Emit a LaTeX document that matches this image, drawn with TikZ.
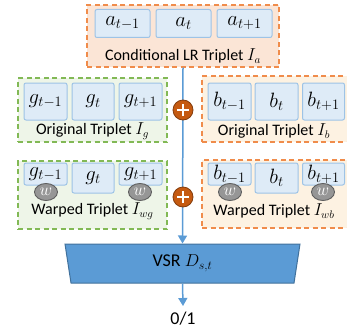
\documentclass[tikz,border=0pt]{standalone}
\usepackage{fontspec}
\setmainfont{Carlito}
\usepackage{tikz}
\usetikzlibrary{shapes.geometric,arrows.meta}

\definecolor{cellfill}{RGB}{222,235,247}
\definecolor{cellline}{RGB}{157,195,230}
\definecolor{orangeline}{RGB}{240,140,75}
\definecolor{peachfill}{RGB}{251,229,214}
\definecolor{creamfill}{RGB}{253,242,226}
\definecolor{greenline}{RGB}{130,185,85}
\definecolor{greenfill}{RGB}{238,245,232}
\definecolor{plusfill}{RGB}{197,90,17}
\definecolor{plusline}{RGB}{132,60,12}
\definecolor{flowblue}{RGB}{91,155,213}
\definecolor{vsrline}{RGB}{65,113,156}
\definecolor{warpfill}{RGB}{150,150,150}
\definecolor{warpline}{RGB}{95,95,95}

\begin{document}
\begin{tikzpicture}[x=1pt, y=-1pt,
  frame/.style={rectangle, dash pattern=on 5pt off 3.5pt, line width=1.2pt, inner sep=0pt},
  cell/.style={rectangle, draw=cellline, fill=cellfill, rounded corners=2pt, line width=1pt,
    inner sep=0pt, font=\fontsize{20}{24}\selectfont},
  caption/.style={font=\fontsize{16}{18}\selectfont, inner sep=0pt},
  warp/.style={ellipse, draw=warpline, fill=warpfill, line width=0.9pt, inner sep=0pt,
    minimum width=23pt, minimum height=17pt, text=white, font=\fontsize{16}{16}\selectfont},
  plus/.style={circle, draw=plusline, fill=plusfill, line width=0.8pt, minimum size=20pt, inner sep=0pt,
    path picture={\draw[white, line width=1.6pt]
      ([xshift=-6pt]path picture bounding box.center) -- ([xshift=6pt]path picture bounding box.center)
      ([yshift=-6pt]path picture bounding box.center) -- ([yshift=6pt]path picture bounding box.center);}},
  flow/.style={draw=flowblue, line width=1.5pt, -{Triangle[length=8pt, width=9pt]}}]

\path[use as bounding box, clip] (0,0) rectangle (347,329);

% conditional LR triplet
\node[frame, draw=orangeline, fill=peachfill, minimum width=192pt, minimum height=62pt] (ia) at (183,36) {};
\node[cell, minimum width=55pt, minimum height=28pt] (a1) at (122.5,23.5) {$a_{t-1}$};
\node[cell, minimum width=55pt, minimum height=28pt] (a2) at (183.5,23.5) {$a_t$};
\node[cell, minimum width=55pt, minimum height=28pt] (a3) at (244.5,23.5) {$a_{t+1}$};
\node[caption] (ialab) at (183,56) {Conditional LR Triplet $I_a$};

% original triplets
\node[frame, draw=greenline, fill=greenfill, minimum width=149pt, minimum height=64pt] (ig) at (92.5,110) {};
\node[cell, minimum width=43pt, minimum height=37pt] (g1) at (45.5,101.5) {$g_{t-1}$};
\node[cell, minimum width=42pt, minimum height=37pt] (g2) at (93,101.5) {$g_t$};
\node[cell, minimum width=43pt, minimum height=37pt] (g3) at (140.5,101.5) {$g_{t+1}$};
\node[caption] (iglab) at (92.5,131) {Original Triplet $I_g$};

\node[frame, draw=orangeline, fill=creamfill, minimum width=148pt, minimum height=66pt] (ib) at (276,109) {};
\node[cell, minimum width=43pt, minimum height=37pt] (b1) at (229.5,101.5) {$b_{t-1}$};
\node[cell, minimum width=43pt, minimum height=37pt] (b2) at (276.5,101.5) {$b_t$};
\node[cell, minimum width=42pt, minimum height=37pt] (b3) at (323.5,101.5) {$b_{t+1}$};
\node[caption] (iblab) at (274,131) {Original Triplet $I_b$};

% warped triplets
\node[frame, draw=greenline, fill=greenfill, minimum width=149pt, minimum height=68pt] (iwg) at (92.5,195) {};
\node[cell, minimum width=43pt, minimum height=22pt] (wg1) at (45.5,174) {\raisebox{4pt}{$g_{t-1}$}};
\node[cell, minimum width=42pt, minimum height=30pt] (wg2) at (93,178) {$g_t$};
\node[cell, minimum width=43pt, minimum height=22pt] (wg3) at (140.5,174) {\raisebox{4pt}{$g_{t+1}$}};
\node[warp] (w1) at (46,192) {$w$};
\node[warp] (w2) at (140,192) {$w$};
\node[caption] (iwglab) at (92.5,211) {Warped Triplet $I_{wg}$};

\node[frame, draw=orangeline, fill=creamfill, minimum width=148pt, minimum height=68pt] (iwb) at (276,194) {};
\node[cell, minimum width=43pt, minimum height=22pt] (wb1) at (229.5,174) {\raisebox{4pt}{$b_{t-1}$}};
\node[cell, minimum width=43pt, minimum height=30pt] (wb2) at (276.5,178) {$b_t$};
\node[cell, minimum width=42pt, minimum height=22pt] (wb3) at (323.5,174) {\raisebox{4pt}{$b_{t+1}$}};
\node[warp] (w3) at (230,192) {$w$};
\node[warp] (w4) at (323,192) {$w$};
\node[caption] (iwblab) at (274,211) {Warped Triplet $I_{wb}$};

% discriminator
\node[trapezium, shape border rotate=180, trapezium stretches body=true,
  trapezium angle=75.6, minimum width=235pt, minimum height=39pt,
  draw=vsrline, fill=flowblue, line width=1pt,
  font=\fontsize{18}{20}\selectfont] (vsr) at (182.5,263.5) {VSR $D_{s,t}$};
\node[font=\fontsize{18}{20}\selectfont, inner sep=0pt] (out) at (183,319) {0/1};
\coordinate (outtip) at (183,306);

\draw[flow] (ia.south) -- (vsr.north);
\draw[flow] (vsr.south) -- (outtip);

\node[plus] (p1) at (183,110) {};
\node[plus] (p2) at (183,197) {};
\end{tikzpicture}
\end{document}
